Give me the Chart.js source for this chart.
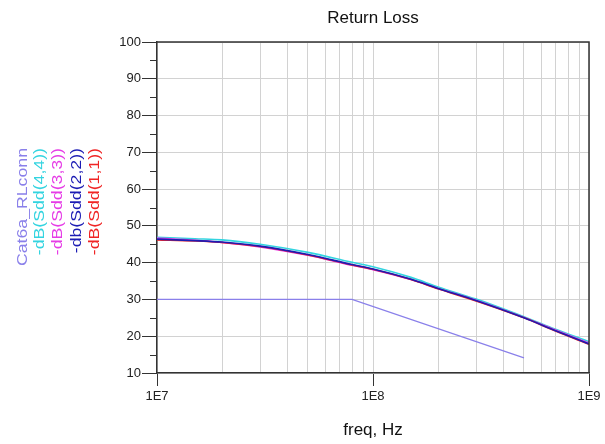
<!DOCTYPE html>
<html>
<head>
<meta charset="utf-8">
<script src="https://cdn.jsdelivr.net/npm/chart.js@4.4.1/dist/chart.umd.min.js"></script>
<style>
  html, body { margin: 0; padding: 0; background: #fff; }
  #wrap { width: 605px; height: 444px; }
</style>
</head>
<body>
<div id="wrap"><canvas id="rl" width="605" height="444"></canvas></div>
<script>
// values (freq in Hz, return loss in dB)
const freq = [1e7, 1.5e7, 2e7, 3e7, 5e7, 8e7, 1e8, 1.5e8, 2e8, 3e8, 5e8, 7e8, 1e9];
const sdd11 = [46.2, 45.9, 45.5, 44.4, 42.1, 39.4, 38.2, 35.4, 32.9, 29.6, 25.0, 21.4, 17.8];
const sdd22 = [46.4, 46.0, 45.6, 44.5, 42.2, 39.5, 38.3, 35.5, 33.0, 29.7, 25.0, 21.5, 17.9];
const sdd33 = [46.7, 46.1, 45.5, 44.3, 42.0, 39.3, 38.1, 35.4, 33.0, 29.8, 25.1, 21.7, 18.1];
const sdd44 = [46.9, 46.5, 46.2, 45.0, 42.8, 40.1, 38.9, 36.0, 33.4, 30.1, 25.3, 21.9, 18.5];

// Cat6a connector limit
const limitFreq = [1e7, 8e7, 5e8];
const limitRL = [30, 30, 14.1];

const xGrid = [1e7, 2e7, 3e7, 4e7, 5e7, 6e7, 7e7, 8e7, 9e7,
               1e8, 2e8, 3e8, 4e8, 5e8, 6e8, 7e8, 8e8, 9e8, 1e9];
const xDecades = [1e7, 1e8, 1e9];
const xDecadeLabels = ['1E7', '1E8', '1E9'];
const yTicks = [10, 15, 20, 25, 30, 35, 40, 45, 50, 55, 60, 65, 70, 75, 80, 85, 90, 95, 100];

const FONT = '"Liberation Sans", Arial, sans-serif';

function pts(xs, ys) {
  return xs.map((x, i) => ({ x: x, y: ys[i] }));
}

function isMajorY(v) {
  return v % 10 === 0;
}

// title, x title, outer frame, minor y ticks, rotated legend
const decorPlugin = {
  id: 'decor',
  beforeDraw(chart) {
    const c = chart.ctx;
    c.save();
    c.fillStyle = '#fff';
    c.fillRect(0, 0, chart.width, chart.height);
    c.restore();
  },
  afterDraw(chart) {
    const c = chart.ctx;
    const a = chart.chartArea;
    const yScale = chart.scales.y;
    c.save();

    c.strokeStyle = '#333';
    c.lineWidth = 1.5;
    c.beginPath();
    c.moveTo(a.left, a.top);
    c.lineTo(a.right, a.top);
    c.lineTo(a.right, a.bottom);
    c.stroke();

    c.lineWidth = 1;
    yTicks.forEach(v => {
      if (isMajorY(v)) return;
      const py = Math.round(yScale.getPixelForValue(v)) + 0.5;
      c.beginPath();
      c.moveTo(a.left - 7, py);
      c.lineTo(a.left, py);
      c.stroke();
    });

    const cx = (a.left + a.right) / 2;
    c.fillStyle = '#111';
    c.textAlign = 'center';
    c.textBaseline = 'alphabetic';
    c.font = '17px ' + FONT;
    c.fillText('Return Loss', cx, 23);
    c.fillText('freq, Hz', cx, 435);

    // legend: one rotated column per dataset
    const cols = [23, 39.5, 58, 76.5, 95];
    c.font = '15px ' + FONT;
    c.textAlign = 'right';
    c.textBaseline = 'middle';
    chart.data.datasets.forEach((ds, i) => {
      c.save();
      c.translate(cols[i], 148);
      c.rotate(-Math.PI / 2);
      c.scale(1.18, 1);
      c.fillStyle = ds.borderColor;
      c.fillText(ds.label, 0, 0);
      c.restore();
    });
    c.restore();
  }
};

new Chart(document.getElementById('rl'), {
  type: 'line',
  data: {
    datasets: [
      { label: 'Cat6a_RLconn', data: pts(limitFreq, limitRL), borderColor: '#8a80ea', borderWidth: 1.3,
        tension: 0, cubicInterpolationMode: 'default', order: 4 },
      { label: '-dB(Sdd(4,4))', data: pts(freq, sdd44), borderColor: '#33d4e0', borderWidth: 1.6, order: 3 },
      { label: '-dB(Sdd(3,3))', data: pts(freq, sdd33), borderColor: '#e63ce6', borderWidth: 1.6, order: 2 },
      { label: '-db(Sdd(2,2))', data: pts(freq, sdd22), borderColor: '#1c1cb4', borderWidth: 1.6, order: 0 },
      { label: '-dB(Sdd(1,1))', data: pts(freq, sdd11), borderColor: '#f02424', borderWidth: 1.6, order: 1 }
    ]
  },
  options: {
    responsive: false,
    animation: false,
    devicePixelRatio: 1,
    layout: { padding: { left: 0, top: 42, right: 16, bottom: 0 } },
    elements: {
      point: { radius: 0 },
      line: { cubicInterpolationMode: 'monotone', fill: false }
    },
    plugins: {
      legend: { display: false },
      title: { display: false },
      tooltip: { enabled: false }
    },
    scales: {
      x: {
        type: 'logarithmic',
        min: 1e7,
        max: 1e9,
        afterBuildTicks: s => { s.ticks = xGrid.map(v => ({ value: v })); },
        afterFit: s => { s.height = 71; },
        ticks: {
          autoSkip: false,
          maxRotation: 0,
          padding: 3,
          color: '#222',
          font: { family: FONT, size: 13 },
          callback: v => {
            const k = xDecades.indexOf(v);
            return k >= 0 ? xDecadeLabels[k] : '';
          }
        },
        grid: {
          color: '#d2d2d2',
          lineWidth: 1,
          tickLength: 13,
          tickColor: ctx => xDecades.indexOf(ctx.tick.value) >= 0 ? '#333' : 'rgba(0,0,0,0)'
        },
        border: { color: '#333', width: 1.5 }
      },
      y: {
        min: 10,
        max: 100,
        afterBuildTicks: s => { s.ticks = yTicks.map(v => ({ value: v })); },
        afterFit: s => { s.width = 157; },
        ticks: {
          autoSkip: false,
          padding: 1,
          color: '#222',
          font: { family: FONT, size: 13 },
          callback: v => isMajorY(v) ? String(v) : ''
        },
        grid: {
          color: ctx => isMajorY(ctx.tick.value) ? '#d2d2d2' : 'rgba(0,0,0,0)',
          lineWidth: 1,
          tickLength: 15,
          tickColor: ctx => isMajorY(ctx.tick.value) ? '#333' : 'rgba(0,0,0,0)'
        },
        border: { color: '#333', width: 1.5 }
      }
    }
  },
  plugins: [decorPlugin]
});
</script>
</body>
</html>
